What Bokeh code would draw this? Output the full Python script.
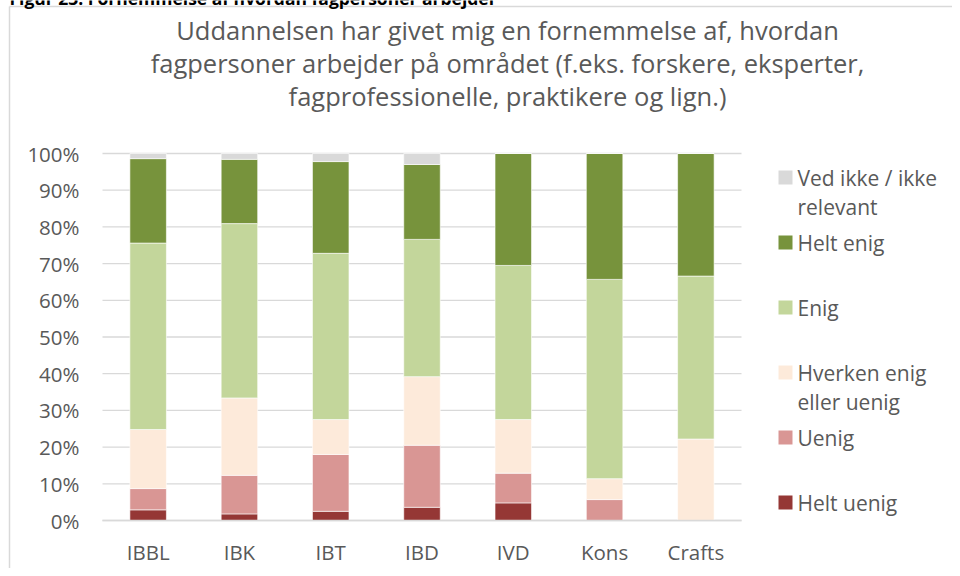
from bokeh.plotting import figure
from bokeh.models import (ColumnDataSource, Range1d, FixedTicker, PrintfTickFormatter,
                          LinearAxis)
from bokeh.core.properties import value
from bokeh.embed import file_html
from bokeh.resources import INLINE

# ---- data ----
categories = ["IBBL", "IBK", "IBT", "IBD", "IVD", "Kons", "Crafts"]
helt_uenig = [2.9, 1.8, 2.5, 3.6, 4.8, 0.0, 0.0]
uenig = [5.8, 10.5, 15.5, 16.9, 8.1, 5.7, 0.0]
hverken = [16.1, 21.1, 9.5, 18.7, 14.6, 5.7, 22.2]
enig = [50.8, 47.5, 45.3, 37.4, 42.0, 54.3, 44.4]
helt_enig = [23.0, 17.5, 25.0, 20.4, 30.5, 34.3, 33.4]
ved_ikke = [1.4, 1.6, 2.2, 3.0, 0.0, 0.0, 0.0]
series_keys = ["helt_uenig", "uenig", "hverken", "enig", "helt_enig", "ved_ikke"]
series_colors = ["#953735", "#D99694", "#FDEADA", "#C3D69B", "#77933C", "#D9D9D9"]
legend_labels = [["Ved ikke / ikke", "relevant"], ["Helt enig"], ["Enig"],
                 ["Hverken enig", "eller uenig"], ["Uenig"], ["Helt uenig"]]
legend_colors = ["#D9D9D9", "#77933C", "#C3D69B", "#FDEADA", "#D99694", "#953735"]
title_lines = ["Uddannelsen har givet mig en fornemmelse af, hvordan",
               "fagpersoner arbejder på området (f.eks. forskere, eksperter,",
               "fagprofessionelle, praktikere og lign.)"]
caption = "Figur 23: Fornemmelse af hvordan fagpersoner arbejder"
y_ticks = [0, 10, 20, 30, 40, 50, 60, 70, 80, 90, 100]

FONT = "Open Sans"
TXT = "#595959"
BORDER = "#D9D9D9"

xs = list(range(1, len(categories) + 1))

# page-pixel helpers for decorations (chart area: x 103..742, y 154..521)
KX = (742 - 103) / len(categories)
KY = (521 - 154) / 100.0


def X(px):
    return 0.5 + (px - 103) / KX


def Y(py):
    return (521 - py) / KY


p = figure(width=952, height=568, x_range=Range1d(X(1), X(953)),
           y_range=Range1d(Y(569), Y(1)), output_backend="svg", toolbar_location=None,
           x_axis_type=None, y_axis_type=None, min_border=0)
p.outline_line_color = None
p.xgrid.visible = False
p.ygrid.visible = False

# outer border of the chart object
p.segment(x0=[X(10), X(10)], y0=[Y(7), Y(7)], x1=[X(1000), X(10)], y1=[Y(7), Y(700)],
          line_color=BORDER, line_width=1.5)

# gridlines (from the tick values)
p.segment(x0=[0.5] * len(y_ticks), x1=[len(categories) + 0.5] * len(y_ticks),
          y0=y_ticks, y1=y_ticks, line_color=BORDER, line_width=1.3)

source = ColumnDataSource(dict(x=xs, helt_uenig=helt_uenig, uenig=uenig, hverken=hverken,
                               enig=enig, helt_enig=helt_enig, ved_ikke=ved_ikke))
p.vbar_stack(series_keys, x="x", width=0.4, color=series_colors, source=source,
             line_color="white", line_width=0.6)

# axes
yax = LinearAxis(fixed_location=0.5, ticker=FixedTicker(ticks=y_ticks),
                 formatter=PrintfTickFormatter(format="%d%%"))
yax.axis_line_color = None
yax.major_tick_line_color = None
yax.minor_tick_line_color = None
yax.major_tick_out = 0
yax.minor_tick_out = 0
yax.major_label_standoff = 23
xax = LinearAxis(fixed_location=0, ticker=FixedTicker(ticks=xs),
                 major_label_overrides={x: c for x, c in zip(xs, categories)})
xax.axis_line_color = BORDER
xax.axis_line_width = 1.3
xax.bounds = (0.5, len(categories) + 0.5)
xax.major_tick_line_color = None
xax.minor_tick_line_color = None
xax.major_tick_out = 0
xax.minor_tick_out = 0
xax.major_label_standoff = 17
for ax in (xax, yax):
    ax.major_label_text_font = FONT
    ax.major_label_text_font_size = "20.5px"
    ax.major_label_text_color = TXT
p.add_layout(yax, "left")
p.add_layout(xax, "below")

# caption (cut off at the top of the page, as in the source)
p.text(x=[X(10)], y=[Y(-1.5)], text=[caption], text_font=value(FONT),
       text_font_style="bold", text_font_size=value("17.5px"), text_color="black",
       text_align="left", text_baseline="middle")

# title
p.text(x=[X(508)] * 3, y=[Y(30.5), Y(63.5), Y(96.5)], text=title_lines,
       text_font=value(FONT), text_font_size=value("25.5px"), text_color=TXT,
       text_align="center", text_baseline="middle")

# legend
centers = [178, 243, 308, 373, 438, 503]
p.quad(left=[X(779)] * 6, right=[X(793)] * 6, top=[Y(c - 7) for c in centers],
       bottom=[Y(c + 7) for c in centers], fill_color=legend_colors, line_color=None)
lx, ly, lt = [], [], []
for lab, cy in zip(legend_labels, centers):
    for j, line in enumerate(lab):
        lx.append(X(798))
        ly.append(Y(cy + 29 * j))
        lt.append(line)
p.text(x=lx, y=ly, text=lt, text_font=value(FONT), text_font_size=value("21px"),
       text_color=TXT, text_align="left", text_baseline="middle")

open("out.html", "w").write(file_html(p, INLINE))
